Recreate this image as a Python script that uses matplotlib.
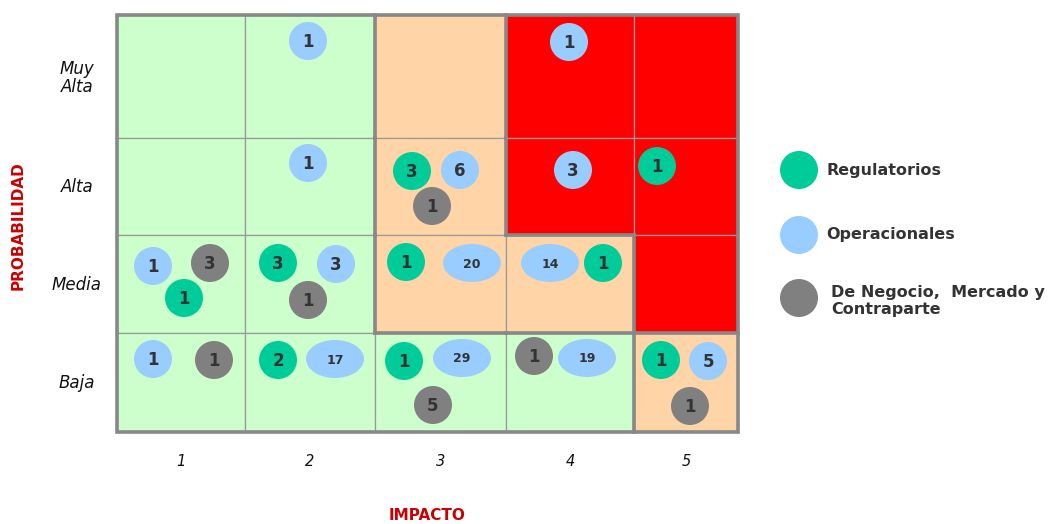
import numpy as np
import matplotlib.pyplot as plt
from matplotlib.patches import Rectangle, Ellipse

# ---- data ----
impact_labels = ['1', '2', '3', '4', '5']
prob_labels = ['Muy\nAlta', 'Alta', 'Media', 'Baja']          # top to bottom
# zone per cell, rows top->bottom, cols left->right : G=low, P=medium, R=high
zones = [['G', 'G', 'P', 'R', 'R'],
         ['G', 'G', 'P', 'R', 'R'],
         ['G', 'G', 'P', 'P', 'R'],
         ['G', 'G', 'G', 'G', 'P']]
categories = ['Regulatorios', 'Operacionales', 'De Negocio,  Mercado y\nContraparte']
# each risk bubble: column (0-4), row (0=Muy Alta .. 3=Baja), category index, count
risk_col = [1, 3,
            1, 2, 2, 2, 3, 4,
            0, 0, 0, 1, 1, 1, 2, 2, 3, 3,
            0, 0, 1, 1, 2, 2, 2, 3, 3, 4, 4, 4]
risk_row = [0, 0,
            1, 1, 1, 1, 1, 1,
            2, 2, 2, 2, 2, 2, 2, 2, 2, 2,
            3, 3, 3, 3, 3, 3, 3, 3, 3, 3, 3, 3]
risk_cat = [1, 1,
            1, 0, 1, 2, 1, 0,
            1, 2, 0, 0, 1, 2, 0, 1, 1, 0,
            1, 2, 0, 1, 0, 1, 2, 2, 1, 0, 1, 2]
risk_count = [1, 1,
              1, 3, 6, 1, 3, 1,
              1, 3, 1, 3, 3, 1, 1, 20, 14, 1,
              1, 1, 2, 17, 1, 29, 5, 1, 19, 1, 5, 1]

# ---- layout (pixels) ----
col_edges = [117, 245, 375, 506, 634, 738]
row_edges = [15, 138, 235, 333, 432]
# bubble offsets from cell's left/top edge
risk_dx = [63, 63,
           63, 37, 85, 57, 67, 23,
           36, 93, 67, 33, 91, 63, 31, 97, 44, 97,
           36, 97, 33, 90, 29, 87, 58, 28, 81, 27, 74, 56]
risk_dy = [26, 27,
           25, 33, 32, 68, 32, 28,
           31, 28, 63, 28, 29, 65, 27, 28, 28, 28,
           26, 27, 27, 26, 28, 25, 72, 23, 25, 27, 28, 73]

zone_colors = {'G': '#CCFFCC', 'P': '#FFD5A8', 'R': '#FF0000'}
cat_colors = ['#00CC99', '#99CCFF', '#808080']
line_col = '#888888'
txt_col = '#333333'

fig = plt.figure(figsize=(10.49, 5.24), dpi=100, facecolor='white')
ax = fig.add_axes([0, 0, 1, 1])
ax.set_xlim(0, 1049); ax.set_ylim(524, 0); ax.axis('off')

# cells
for r in range(4):
    for c in range(5):
        x0, x1 = col_edges[c], col_edges[c+1]
        y0, y1 = row_edges[r], row_edges[r+1]
        ax.add_patch(Rectangle((x0, y0), x1-x0, y1-y0, facecolor=zone_colors[zones[r][c]],
                               edgecolor='#999999', linewidth=0.9, zorder=1))

# thick borders where zone changes
for r in range(4):
    for c in range(5):
        if c < 4 and zones[r][c] != zones[r][c+1]:
            ax.plot([col_edges[c+1]]*2, [row_edges[r], row_edges[r+1]], color=line_col, lw=2.6,
                    zorder=2, solid_capstyle='projecting')
        if r < 3 and zones[r][c] != zones[r+1][c]:
            ax.plot([col_edges[c], col_edges[c+1]], [row_edges[r+1]]*2, color=line_col, lw=2.6,
                    zorder=2, solid_capstyle='projecting')
ax.add_patch(Rectangle((col_edges[0], row_edges[0]), col_edges[-1]-col_edges[0],
                       row_edges[-1]-row_edges[0], fill=False, edgecolor=line_col, lw=2.6, zorder=3))

# bubbles
for c, r, k, n, dx, dy in zip(risk_col, risk_row, risk_cat, risk_count, risk_dx, risk_dy):
    cx = col_edges[c] + dx
    cy = row_edges[r] + dy
    w = 58 if n >= 10 else 38
    ax.add_patch(Ellipse((cx, cy), w, 38, facecolor=cat_colors[k], edgecolor='none', zorder=4))
    ax.text(cx, cy + 1, str(n), ha='center', va='center', color=txt_col, fontweight='bold',
            fontsize=9 if n >= 10 else 12, zorder=5)

# axis labels
for r, lab in enumerate(prob_labels):
    ax.text(77, (row_edges[r] + row_edges[r+1]) / 2 + 1, lab, ha='center', va='center',
            fontstyle='italic', fontsize=12, color='#111111', linespacing=1.0)
for c, lab in enumerate(impact_labels):
    ax.text((col_edges[c] + col_edges[c+1]) / 2, 461, lab, ha='center', va='center',
            fontstyle='italic', fontsize=10.5, color='#111111')
ax.text(18, 226, 'PROBABILIDAD', rotation=90, ha='center', va='center', color='#CC0000',
        fontweight='bold', fontsize=11)
ax.text(427, 516, 'IMPACTO', ha='center', va='center', color='#CC0000',
        fontweight='bold', fontsize=11)

# legend
leg_y = [170, 235, 298]
for k, lab in enumerate(categories):
    ax.add_patch(Ellipse((799, leg_y[k]), 38, 38, facecolor=cat_colors[k], edgecolor='none'))
    ax.text(826 if k < 2 else 831, leg_y[k] + (0 if k < 2 else 3), lab, ha='left', va='center',
            color=txt_col, fontweight='bold', fontsize=11.5, linespacing=1.2)

fig.savefig('out.png', dpi=100, facecolor='white')
